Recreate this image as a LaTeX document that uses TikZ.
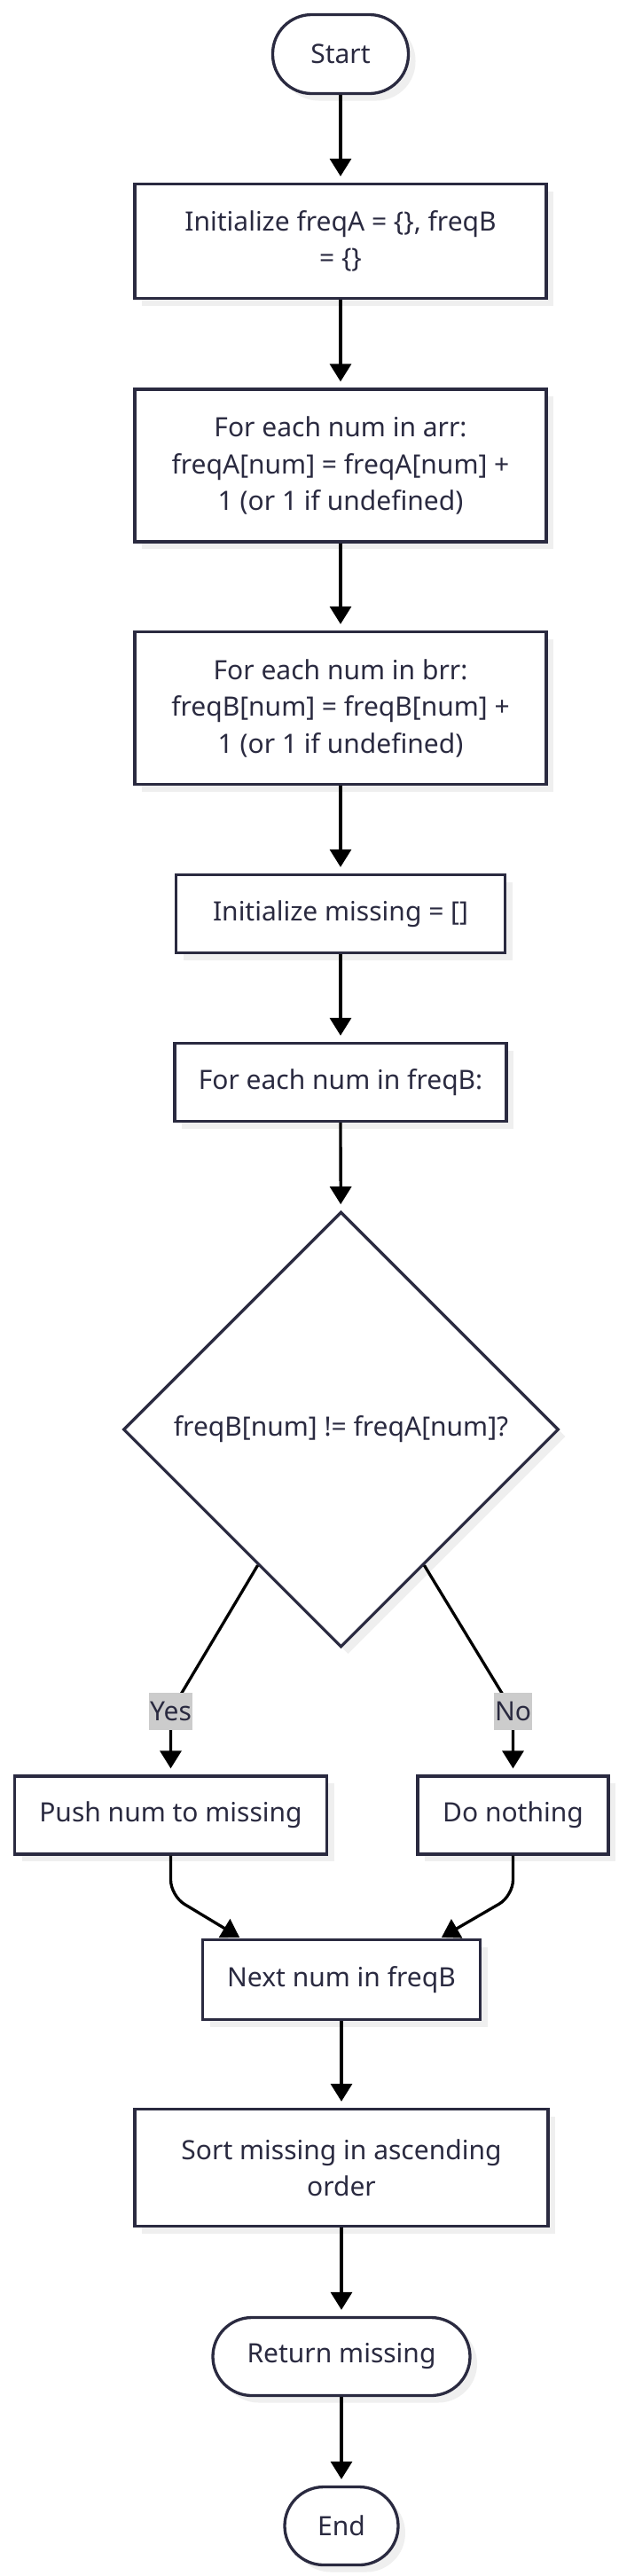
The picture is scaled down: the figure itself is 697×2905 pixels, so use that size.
\documentclass[tikz,border=0pt]{standalone}
\usepackage{fontspec}
\setmainfont{Noto Sans}
\usetikzlibrary{arrows.meta,shapes.geometric,shadows,calc}
\definecolor{mstroke}{HTML}{2A2A40}
\definecolor{mtext}{HTML}{2A2A40}
\definecolor{mshadow}{HTML}{EFEFEF}
\definecolor{mlabel}{HTML}{CCCCCC}
\begin{document}
\begin{tikzpicture}[x=1pt,y=-1pt,
  txt/.style={font=\fontsize{30}{41.5}\selectfont},
  base/.style={draw=mstroke, line width=3.3pt, fill=white, text=mtext, txt, align=center, inner sep=0pt,
    drop shadow={shadow xshift=8pt, shadow yshift=-8pt, fill=mshadow, opacity=1}},
  proc/.style={base, rectangle},
  term/.style={base, rectangle, rounded corners=44pt},
  dec/.style={base, diamond, aspect=1, minimum size=491pt},
  flow/.style={draw=black, line width=3.3pt, -{Triangle[width=24pt,length=20pt]}, shorten >=7pt},
  lbl/.style={fill=mlabel, text=mtext, txt, inner xsep=1pt, inner ysep=0pt, minimum height=42pt}
]
\useasboundingbox (0,0) rectangle (697,2905);
\fill[white] (0,0) rectangle (697,2905);

\node[term, minimum width=153pt, minimum height=89pt] (start) at (384,61) {Start};
\node[proc, minimum width=464pt, minimum height=129pt] (b1) at (384,272) {Initialize freqA = \{\}, freqB\\= \{\}};
\node[proc, minimum width=464pt, minimum height=172pt] (b2) at (384,525) {For each num in arr:\\freqA[num] = freqA[num] +\\1 (or 1 if undefined)};
\node[proc, minimum width=464pt, minimum height=172pt] (b3) at (384,798.5) {For each num in brr:\\freqB[num] = freqB[num] +\\1 (or 1 if undefined)};
\node[proc, minimum width=371pt, minimum height=88pt] (b4) at (384,1030.5) {Initialize missing = []};
\node[proc, minimum width=374pt, minimum height=88pt] (b5) at (384,1220.5) {For each num in freqB:};
\node[dec] (dec) at (384.5,1612) {freqB[num] != freqA[num]?};
\node[proc, minimum width=352pt, minimum height=88pt] (push) at (192.5,2047) {Push num to missing};
\node[proc, minimum width=215pt, minimum height=88pt] (nothing) at (578.5,2047) {Do nothing};
\node[proc, minimum width=313pt, minimum height=90pt] (next) at (385,2232.5) {Next num in freqB};
\node[proc, minimum width=466pt, minimum height=132pt] (sort) at (385,2444.5) {Sort missing in ascending\\order};
\node[term, minimum width=290pt, minimum height=88pt] (ret) at (385,2657.5) {Return missing};
\node[term, minimum width=128pt, minimum height=88pt] (end) at (385,2848.5) {End};

\draw[flow] (start) -- (b1);
\draw[flow] (b1) -- (b2);
\draw[flow] (b2) -- (b3);
\draw[flow] (b3) -- (b4);
\draw[flow] (b4) -- (b5);
\draw[flow] (b5) -- (dec);

\coordinate (y1) at ($(dec.west)!0.62!(dec.south)$);
\coordinate (n1) at ($(dec.east)!0.62!(dec.south)$);
\coordinate (ybend) at (192.5,1930);
\coordinate (nbend) at (578.5,1930);
\draw[flow, rounded corners=10pt] (y1) -- (ybend) -- (push.north);
\draw[flow, rounded corners=10pt] (n1) -- (nbend) -- (nothing.north);
\node[lbl] (yes) at (ybend) {Yes};
\node[lbl] (no) at (nbend) {No};

\coordinate (pc) at (192.5,2138);
\coordinate (dc) at (578.5,2138);
\draw[flow, rounded corners=18pt, shorten >=2pt] (push.south) -- (pc) -- ($(next.north west)+(45,0)$);
\draw[flow, rounded corners=18pt, shorten >=2pt] (nothing.south) -- (dc) -- ($(next.north east)+(-47,0)$);

\draw[flow] (next) -- (sort);
\draw[flow] (sort) -- (ret);
\draw[flow] (ret) -- (end);
\end{tikzpicture}
\end{document}
